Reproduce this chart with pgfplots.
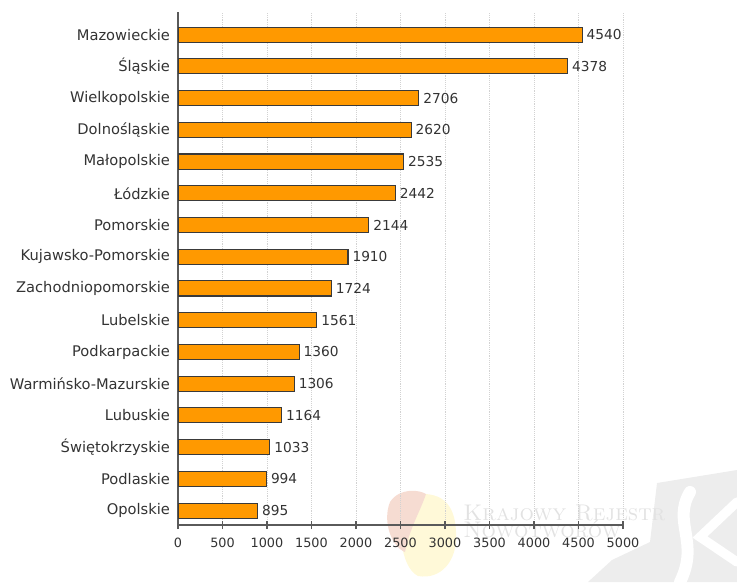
\documentclass[border=0pt]{standalone}
\usepackage{fontspec}
\setmainfont{DejaVu Sans}
\usepackage{pgfplots}
\pgfplotsset{compat=1.18}
\definecolor{barorange}{HTML}{FF9900}
\definecolor{baredge}{HTML}{3A3A3A}
\definecolor{labelgray}{HTML}{333333}
\definecolor{axisgray}{HTML}{5A5A5A}
\definecolor{wmgray}{HTML}{EDEDED}
\definecolor{wmtext}{HTML}{E2E2E2}
\definecolor{wmpink}{HTML}{F6DCD2}
\definecolor{wmyellow}{HTML}{FFF9D8}

\pgfplotstableread{
idx value
0 895
1 994
2 1033
3 1164
4 1306
5 1360
6 1561
7 1724
8 1910
9 2144
10 2442
11 2535
12 2620
13 2706
14 4378
15 4540
}\voivodeships

\begin{document}
\begin{tikzpicture}
\useasboundingbox (0,0) rectangle (552.75pt,436.5pt);
% faint registry watermark behind the chart
\begin{scope}[x=0.75pt,y=0.75pt]
  \fill[wmgray] (657,99) -- (737,112) -- (737,0) -- (588,0) -- (612,22) -- (650,40) -- cycle;
  \draw[white, line width=9pt, line cap=round] (690,90) .. controls (672,60) and (700,40) .. (680,0);
  \draw[white, line width=7pt, line cap=round] (737,80) -- (700,45) -- (737,20);
  \fill[wmyellow] (410,87) .. controls (440,92) and (455,80) .. (456,50) .. controls (458,20) and (440,2) .. (418,6) .. controls (400,15) and (395,60) .. (410,87) -- cycle;
  \fill[wmpink] (390,80) .. controls (400,95) and (420,92) .. (426,88) .. controls (420,70) and (410,55) .. (405,30) .. controls (392,35) and (382,60) .. (390,80) -- cycle;
  \node[anchor=base west, inner sep=0pt, text=wmtext, font={\fontfamily{lmr}\selectfont\fontsize{17}{17}\selectfont\scshape}] at (463,62) {Krajowy Rejestr};
  \node[anchor=base west, inner sep=0pt, text=wmtext, font={\fontfamily{lmr}\selectfont\fontsize{17}{17}\selectfont\scshape}] at (463,45) {Nowotworów};
\end{scope}
\begin{axis}[
  at={(133.5pt,42.75pt)}, anchor=south west,
  scale only axis, width=333.75pt, height=384.75pt,
  xbar, bar width=0.474,
  xmin=0, xmax=5000, ymin=-0.452, ymax=15.711,
  axis x line*=bottom, axis y line*=left,
  axis line style={axisgray, line width=0.9pt, -},
  xtick={0,500,...,5000},
  ytick={0,...,15},
  yticklabels={Opolskie,Podlaskie,Świętokrzyskie,Lubuskie,Warmińsko-Mazurskie,Podkarpackie,Lubelskie,Zachodniopomorskie,Kujawsko-Pomorskie,Pomorskie,Łódzkie,Małopolskie,Dolnośląskie,Wielkopolskie,Śląskie,Mazowieckie},
  y tick style={draw=none},
  x tick style={axisgray, line width=0.9pt},
  tick align=center, major tick length=6pt,
  xmajorgrids, major grid style={densely dotted, gray!35, line width=0.6pt},
  /pgf/number format/1000 sep={},
  /pgf/number format/assume math mode=true,
  xticklabel style={font=\fontsize{9.6}{10}\selectfont, text=labelgray, yshift=-3pt},
  yticklabel style={font=\fontsize{11}{12}\selectfont, text=labelgray, xshift=0.5pt},
  nodes near coords,
  nodes near coords align={horizontal},
  every node near coord/.append style={font=\fontsize{10.3}{12}\selectfont, text=labelgray, inner xsep=3pt},
]
\addplot[fill=barorange, draw=baredge, line width=0.8pt] table[x=value, y=idx] {\voivodeships};
\end{axis}
\end{tikzpicture}
\end{document}
